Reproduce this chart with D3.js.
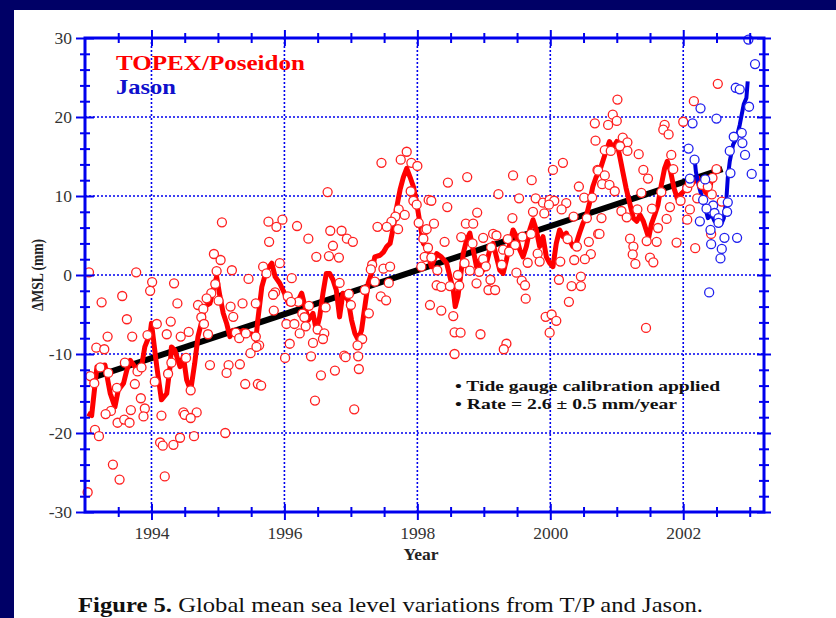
<!DOCTYPE html>
<html>
<head>
<meta charset="utf-8">
<script src="https://cdn.jsdelivr.net/npm/d3@7"></script>
<style>
  html, body { margin: 0; padding: 0; overflow: hidden; background: #ffffff; }
  svg { display: block; }
</style>
</head>
<body>
<script>
// ---- data (year, mm) ----
const tpYears = [1993.06,1993.25,1993.56,1993.77,1994.01,1993.98,1994.34,1994.39,1994.94,1995.04,1995.06,1995.21,1995.46,
  1994.98,1994.96,1994.90,1994.70,1994.83,1994.78,1995.01,1995.19,1995.37,1995.57,1995.23,1994.75,1994.79,1993.63,1994.29,
  1994.08,1994.23,1993.94,1993.71,1993.34,1994.44,1994.56,1994.85,1995.27,1995.32,1995.42,1995.57,1993.17,1993.29,1995.49,
  1995.62,1993.60,1993.23,1994.88,1995.16,1995.33,1995.13,1994.52,1994.30,1993.08,1993.35,1993.79,1993.85,1993.14,1993.75,
  1994.05,1994.25,1995.41,1995.60,1993.48,1994.59,1993.84,1993.90,1993.69,1993.39,1993.31,1993.88,1994.15,1994.48,1994.50,
  1994.68,1994.59,1993.49,1993.59,1993.67,1993.15,1993.21,1995.11,1994.64,1994.43,1994.33,1994.13,1994.17,1993.42,1993.52,
  1994.20,1993.04,
  1997.84,1997.75,1997.91,1998.00,1997.46,1996.65,1997.90,1997.94,1997.99,1998.17,1997.72,1997.81,1997.67,1997.61,1997.54,
  1997.71,1997.40,1998.02,1998.12,1998.09,1998.11,1995.76,1995.88,1995.97,1996.19,1995.77,1996.36,1996.69,1996.86,1996.94,
  1997.03,1996.73,1996.48,1996.67,1996.82,1995.68,1995.73,1995.93,1996.11,1997.32,1997.30,1997.49,1997.59,1998.06,1996.83,
  1997.36,1997.57,1997.21,1995.86,1995.83,1996.05,1996.21,1996.10,1996.97,1997.45,1997.53,1996.37,1996.62,1997.00,1995.84,
  1996.27,1997.27,1996.30,1996.03,1996.15,1996.32,1996.23,1996.50,1996.60,1996.58,1996.43,1996.08,1997.17,1997.10,1995.58,
  1996.01,1996.40,1996.90,1996.92,1997.11,1997.12,1996.76,1996.55,1996.46,1997.05,1995.65,
  2000.67,2000.68,2000.19,2000.04,1999.44,1999.72,1998.75,1998.46,2000.43,2000.71,1999.22,1998.21,1999.53,1999.78,1999.89,
  1999.99,2000.06,1999.98,2000.24,2000.17,2000.51,2000.63,1998.45,1998.90,1999.74,1999.91,1999.43,2000.35,2000.55,1998.25,
  1998.73,1998.84,1998.14,2000.72,1998.66,1998.99,1999.14,1999.19,1999.36,1999.58,1999.71,1998.41,1998.83,1999.47,2000.26,
  2000.40,2000.58,1998.16,1999.11,1999.29,1999.38,1999.81,2000.61,1998.99,1998.21,1998.71,1999.03,1999.27,1999.66,1999.84,
  2000.15,2000.36,2000.52,1998.30,1998.79,1998.93,1998.61,1999.49,1999.10,1998.89,1998.29,1998.36,1998.49,1998.63,1999.57,
  1999.62,2000.13,2000.46,2000.32,2000.46,1999.07,1999.17,1999.63,1998.19,2000.28,1998.36,1998.54,1999.93,2000.02,2000.09,
  1998.56,1998.65,1998.95,1999.99,1999.34,1999.30,1998.56,
  2002.52,2001.01,2002.16,2000.94,2001.00,2000.87,2002.00,2001.72,2001.70,2001.78,2001.09,2001.16,2001.05,2000.82,2000.91,
  2001.16,2001.33,2001.82,2001.40,2001.47,2001.85,2000.72,2000.82,2000.78,2000.89,2000.97,2001.37,2001.67,2002.06,2002.10,
  2002.44,2002.28,2002.21,2002.43,2002.37,2002.58,2001.96,2001.80,2001.31,2001.53,2001.07,2001.15,2000.77,2002.10,2002.06,
  2001.75,2002.42,2000.74,2001.62,2001.20,2001.45,2001.60,2001.90,2002.18,2001.25,2001.24,2001.50,2001.28,2001.55,2001.44,
  2002.50];
const tpValues = [0.34,-3.46,-2.66,0.34,-0.9,-2.0,-1.05,-3.6,2.66,1.9,6.67,0.6,-0.5,
  0.5,-1.14,-2.3,-3.8,-2.95,-4.3,-3.25,-4.0,-3.6,-3.6,-5.3,-5.35,-6.2,-5.6,-5.9,
  -6.2,-7.5,-7.6,-7.8,-7.8,-7.8,-7.2,-7.5,-7.3,-8.0,-7.4,-7.8,-9.2,-9.4,-9.9,
  -8.9,-11.1,-11.7,-11.4,-11.4,-11.3,-12.4,-10.5,-11.1,-12.8,-12.4,-12.2,-11.7,-13.7,-13.8,
  -13.5,-12.5,-13.8,-13.8,-14.3,-14.6,-15.6,-16.9,-17.1,-17.2,-17.6,-17.9,-17.8,-17.4,-17.7,
  -17.4,-18.1,-18.7,-18.3,-18.7,-19.6,-20.4,-20.0,-20.4,-20.6,-21.5,-21.2,-21.6,-24.0,-25.9,
  -25.5,-27.5,
  15.6,14.6,14.2,13.8,14.2,10.5,10.6,9.4,8.9,9.5,8.3,7.6,7.4,6.75,6.1,
  5.8,6.1,6.6,5.7,4.6,2.3,6.75,6.1,7.0,6.2,4.2,4.6,5.6,5.6,4.6,
  4.2,3.7,2.3,2.4,2.2,1.05,0.2,1.5,-0.4,1.3,0.7,0.8,1.05,1.05,-1.0,
  -0.85,-1.0,-1.9,-2.2,-2.5,-2.7,-3.4,-3.4,-2.4,-2.7,-3.2,-3.9,-4.1,-3.8,-4.5,
  -4.9,-4.85,-5.35,-6.2,-6.2,-6.5,-7.4,-6.9,-7.4,-8.1,-8.6,-8.7,-8.1,-8.9,-9.1,
  -10.5,-10.3,-10.2,-10.4,-10.3,-11.9,-12.1,-12.7,-15.9,-17.0,-14.0,
  19.2,17.0,14.2,13.3,12.6,12.0,12.4,11.7,11.2,13.3,10.25,9.4,9.7,9.7,9.15,
  9.5,9.4,8.9,9.1,8.3,9.8,9.8,8.6,7.9,8.0,7.8,7.2,7.4,7.2,6.5,
  6.5,6.5,5.8,5.2,4.8,4.7,5.2,5.0,4.55,4.85,5.2,4.2,4.0,3.8,4.55,
  3.6,4.2,3.45,3.5,3.2,2.95,2.7,2.65,2.0,2.2,1.5,1.1,1.3,1.55,1.7,
  1.7,1.9,2.0,0.6,0.55,0.4,0.0,0.3,-0.6,-1.05,-1.3,-1.5,-1.4,-1.35,-0.7,
  -1.3,-0.6,-0.2,-1.4,-1.4,-1.9,-1.9,-3.0,-3.8,-3.4,-4.5,-5.2,-5.3,-5.0,-5.8,
  -7.25,-7.3,-7.5,-7.3,-8.7,-9.4,-10.0,
  24.2,22.2,22.0,20.3,19.5,19.0,19.4,19.0,18.4,17.8,17.4,16.8,16.3,15.8,15.7,
  15.7,15.3,15.2,13.3,12.2,13.4,13.2,12.6,11.5,11.4,10.6,10.4,10.5,11.0,11.65,
  12.3,11.4,9.7,10.2,11.2,9.3,9.4,8.6,8.3,8.4,8.1,7.3,7.2,8.3,7.0,
  7.1,5.2,5.2,5.95,4.6,4.3,4.2,4.1,3.4,3.6,2.6,2.2,1.4,1.6,-6.7,
  13.4];

const tpSmoothYears = [1993.04,1993.10,1993.18,1993.30,1993.38,1993.45,1993.50,1993.58,1993.63,1993.68,1993.75,1993.80,
  1993.85,1993.90,1993.98,1994.00,1994.08,1994.15,1994.23,1994.28,1994.30,1994.35,1994.43,1994.48,1994.53,1994.59,1994.65,
  1994.70,1994.75,1994.80,1994.88,1994.93,1994.98,1995.03,1995.08,1995.13,1995.18,1995.23,1995.30,1995.38,1995.46,1995.53,
  1995.57,1995.60,1995.66,1995.73,1995.81,1995.86,1995.93,1996.00,1996.06,1996.13,1996.21,1996.26,1996.31,1996.36,1996.43,
  1996.48,1996.53,1996.58,1996.63,1996.68,1996.73,1996.78,1996.83,1996.88,1996.96,1997.01,1997.06,1997.11,1997.16,1997.21,
  1997.26,1997.31,1997.36,1997.44,1997.49,1997.54,1997.59,1997.64,1997.69,1997.74,1997.79,1997.84,1997.89,1997.94,1997.99,
  1998.04,1998.09,1998.13,1998.16,1998.21,1998.29,1998.36,1998.44,1998.49,1998.54,1998.57,1998.61,1998.65,1998.69,1998.74,
  1998.79,1998.84,1998.89,1998.94,1998.99,1999.04,1999.09,1999.14,1999.19,1999.24,1999.29,1999.34,1999.39,1999.44,1999.49,
  1999.54,1999.59,1999.64,1999.69,1999.74,1999.79,1999.84,1999.89,1999.94,1999.99,2000.04,2000.09,2000.14,2000.19,2000.24,
  2000.29,2000.34,2000.39,2000.44,2000.49,2000.54,2000.59,2000.64,2000.69,2000.74,2000.82,2000.89,2000.94,2001.00,2001.05,
  2001.09,2001.14,2001.20,2001.25,2001.30,2001.35,2001.40,2001.45,2001.48,2001.52,2001.57,2001.62,2001.67,2001.72,2001.76,
  2001.81,2001.86,2001.91,2001.96,2002.01,2002.06,2002.12,2002.17,2002.22,2002.27,2002.32,2002.37,2002.41,2002.43];
const tpSmoothValues = [-17.5,-17.8,-11.6,-11.4,-15.0,-16.7,-14.6,-13.7,-12.0,-10.8,-11.6,-12.4,
  -11.6,-9.1,-7.4,-6.1,-11.6,-15.8,-15.0,-11.6,-9.1,-9.5,-11.6,-10.3,-13.3,-14.6,-11.2,
  -7.8,-6.1,-4.0,-3.6,-1.9,-0.2,-2.7,-4.85,-6.1,-7.8,-7.0,-7.4,-7.0,-7.4,-7.5,
  -8.2,-5.7,-1.5,0.6,1.5,-0.2,-1.05,-2.3,-3.6,-3.4,-3.2,-2.3,-4.0,-5.7,-4.85,
  -7.0,-5.3,-2.3,0.2,0.2,-0.6,-1.9,-5.3,-2.3,-3.2,-5.7,-7.4,-8.2,-7.0,-4.0,
  -1.05,0.2,2.3,2.5,2.9,3.6,4.0,6.1,8.6,10.8,12.4,13.5,12.4,11.2,9.1,
  6.5,4.0,3.6,2.7,1.05,2.7,2.3,1.5,-0.2,-1.9,-4.0,-2.7,-0.2,2.7,4.4,
  5.3,3.2,1.05,1.9,0.6,1.5,3.2,4.0,2.3,0.6,0.2,1.9,4.0,5.7,4.85,
  3.2,2.3,3.6,5.7,7.0,5.7,3.6,4.85,2.3,1.5,1.05,4.0,5.7,4.85,5.3,
  4.4,3.6,4.0,5.3,6.5,7.4,9.1,11.2,12.4,13.1,15.2,16.9,16.1,16.9,14.8,
  13.1,11.0,8.9,7.2,6.8,7.6,6.8,5.5,4.7,6.4,7.6,8.9,11.4,13.5,14.4,
  13.1,11.0,9.7,10.2,10.6,11.4,11.4,11.9,12.3,11.4,10.6,10.2,11.4,12.7];

const jasonYears = [2002.98,2003.08,2002.79,2002.85,2002.99,2002.26,2002.50,2002.14,2002.88,2002.76,2002.89,2002.08,
  2002.93,2002.70,2003.03,2002.71,2002.17,2002.10,2002.33,2002.30,2002.45,2002.67,2002.35,2002.47,2002.66,2002.53,
  2002.25,2002.53,2002.41,2002.62,2002.81,2002.42,2002.58,2002.56,2002.39];
const jasonValues = [29.8,26.7,23.7,23.5,21.3,21.1,19.8,19.2,18.0,17.5,16.7,16.0,
  15.2,15.7,12.8,12.9,14.6,12.2,12.1,9.5,8.8,9.2,8.4,7.85,8.0,7.2,
  6.8,6.6,5.7,4.7,4.7,3.9,3.3,2.1,-2.2];

const jasonSmoothYears = [2002.17,2002.19,2002.23,2002.27,2002.32,2002.37,2002.43,2002.47,2002.52,2002.57,2002.61,
  2002.65,2002.67,2002.70,2002.75,2002.80,2002.85,2002.87,2002.91,2002.95,2002.97];
const jasonSmoothValues = [14.8,13.1,11.4,10.2,8.9,7.2,7.6,6.8,7.2,6.4,7.2,
  9.7,12.3,14.4,16.5,17.3,19.0,19.9,21.6,22.4,24.5];

const trendYears = [1993.15, 2002.59];
const trendValues = [-12.9, 13.4];

const xTickYears = [1994, 1996, 1998, 2000, 2002];
const yTickValues = [-30, -20, -10, 0, 10, 20, 30];

// ---- layout ----
const width = 836, height = 618;
const axisBlue = "#0000ee";
const serif = "'Liberation Serif', 'DejaVu Serif', serif";

const svg = d3.select("body").append("svg")
  .attr("width", width)
  .attr("height", height)
  .style("background", "#ffffff");

// navy strips along the top and left edge
svg.append("rect").attr("x", 0).attr("y", 0).attr("width", width).attr("height", 10).attr("fill", "#000066");
svg.append("rect").attr("x", 0).attr("y", 0).attr("width", 14).attr("height", height).attr("fill", "#000066");

const x = d3.scaleLinear().domain([1993, 2003.215]).range([85, 764]);
const y = d3.scaleLinear().domain([-30, 30]).range([512, 38]);

const xMinor = d3.range(1993.5, 2003.2, 0.5);
const yMinor = d3.range(-28, 30, 2);

// dotted grid
const grid = svg.append("g").attr("stroke", axisBlue).attr("stroke-width", 1.6).attr("stroke-dasharray", "2,2");
grid.selectAll(".gx").data(xTickYears).enter().append("line")
  .attr("x1", d => x(d)).attr("x2", d => x(d))
  .attr("y1", y(30)).attr("y2", y(-30));
grid.selectAll(".gy").data(yTickValues.filter(d => d > -30 && d < 30)).enter().append("line")
  .attr("x1", x.range()[0]).attr("x2", x.range()[1])
  .attr("y1", d => y(d)).attr("y2", d => y(d));

// lines
const line = d3.line().x(d => x(d[0])).y(d => y(d[1]));

svg.append("path")
  .datum(trendYears.map((d, i) => [d, trendValues[i]]))
  .attr("d", line)
  .attr("fill", "none").attr("stroke", "#000").attr("stroke-width", 6);

svg.append("path")
  .datum(tpSmoothYears.map((d, i) => [d, tpSmoothValues[i]]))
  .attr("d", line)
  .attr("fill", "none").attr("stroke", "#ff0000").attr("stroke-width", 5)
  .attr("stroke-linejoin", "round");

svg.append("path")
  .datum(jasonSmoothYears.map((d, i) => [d, jasonSmoothValues[i]]))
  .attr("d", line)
  .attr("fill", "none").attr("stroke", "#0000dd").attr("stroke-width", 4)
  .attr("stroke-linejoin", "round");

// open circles
svg.append("g").selectAll("circle")
  .data(tpYears.map((d, i) => [d, tpValues[i]]))
  .enter().append("circle")
  .attr("cx", d => x(d[0])).attr("cy", d => y(d[1])).attr("r", 4.5)
  .attr("fill", "#fff").attr("stroke", "#ff2020").attr("stroke-width", 1.3);

svg.append("g").selectAll("circle")
  .data(jasonYears.map((d, i) => [d, jasonValues[i]]))
  .enter().append("circle")
  .attr("cx", d => x(d[0])).attr("cy", d => y(d[1])).attr("r", 4.5)
  .attr("fill", "#fff").attr("stroke", "#2020ee").attr("stroke-width", 1.3);

// axes
function styleAxis(g) {
  g.select(".domain").remove();
  g.selectAll(".tick line").attr("stroke", axisBlue).attr("stroke-width", 2);
  g.selectAll(".tick text").attr("fill", "#333").attr("font-family", serif).attr("font-size", 17.5);
}

const xAxisBottom = svg.append("g").attr("transform", `translate(0,${y(-30)})`)
  .call(d3.axisBottom(x).tickValues(xMinor).tickSize(0).tickFormat(d => xTickYears.includes(d) ? d : ""));
const xAxisTop = svg.append("g").attr("transform", `translate(0,${y(30)})`)
  .call(d3.axisTop(x).tickValues(xMinor).tickSize(0).tickFormat(""));
const yAxisLeft = svg.append("g").attr("transform", `translate(${x(1993)},0)`)
  .call(d3.axisLeft(y).tickValues(yMinor.concat([-30, 30])).tickSize(0).tickFormat(d => yTickValues.includes(d) ? d : ""));
const yAxisRight = svg.append("g").attr("transform", `translate(${x.range()[1]},0)`)
  .call(d3.axisRight(y).tickValues(yMinor.concat([-30, 30])).tickSize(0).tickFormat(""));

[xAxisBottom, xAxisTop, yAxisLeft, yAxisRight].forEach(g => styleAxis(g));

// ticks cross the axis line, majors longer
xAxisBottom.selectAll(".tick line").attr("y1", d => xTickYears.includes(d) ? -8 : -5).attr("y2", d => xTickYears.includes(d) ? 8 : 5);
xAxisTop.selectAll(".tick line").attr("y1", d => xTickYears.includes(d) ? -8 : -5).attr("y2", d => xTickYears.includes(d) ? 8 : 5);
yAxisLeft.selectAll(".tick line").attr("x1", d => yTickValues.includes(d) ? -9 : -5).attr("x2", d => yTickValues.includes(d) ? 9 : 5);
yAxisRight.selectAll(".tick line").attr("x1", d => yTickValues.includes(d) ? -7 : -5).attr("x2", d => yTickValues.includes(d) ? 7 : 5);
xAxisBottom.selectAll(".tick text").attr("y", 15).attr("dy", "0.71em");
yAxisLeft.selectAll(".tick text").attr("x", -13).attr("dy", "0.32em");

// axis frame
svg.append("rect")
  .attr("x", x.range()[0]).attr("y", y(30))
  .attr("width", x.range()[1] - x.range()[0]).attr("height", y(-30) - y(30))
  .attr("fill", "none").attr("stroke", axisBlue).attr("stroke-width", 3);

// axis titles
svg.append("text")
  .attr("x", 421).attr("y", 560)
  .attr("text-anchor", "middle")
  .attr("font-family", serif).attr("font-weight", "bold").attr("font-size", 17.5).attr("fill", "#222")
  .text("Year");

svg.append("text")
  .attr("transform", `translate(43,${y(0)}) rotate(-90)`)
  .attr("text-anchor", "middle")
  .attr("font-family", serif).attr("font-weight", "bold").attr("font-size", 16).attr("fill", "#222")
  .attr("textLength", 72).attr("lengthAdjust", "spacingAndGlyphs")
  .text("ΔMSL (mm)");

// legend
svg.append("text").attr("x", 116).attr("y", 70)
  .attr("font-family", serif).attr("font-weight", "bold").attr("font-size", 21).attr("fill", "#ff0000")
  .attr("textLength", 189).attr("lengthAdjust", "spacingAndGlyphs")
  .text("TOPEX/Poseidon");
svg.append("text").attr("x", 116).attr("y", 94)
  .attr("font-family", serif).attr("font-weight", "bold").attr("font-size", 21).attr("fill", "#1010cc")
  .attr("textLength", 60).attr("lengthAdjust", "spacingAndGlyphs")
  .text("Jason");

// notes
const notes = ["• Tide gauge calibration applied", "• Rate = 2.6 ± 0.5 mm/year"];
const noteWidths = [265, 222];
svg.selectAll(".note").data(notes).enter().append("text")
  .attr("x", 455).attr("y", (d, i) => 391 + i * 18)
  .attr("font-family", serif).attr("font-weight", "bold").attr("font-size", 15.6).attr("fill", "#111")
  .attr("textLength", (d, i) => noteWidths[i]).attr("lengthAdjust", "spacingAndGlyphs")
  .text(d => d);

// caption
const cap = svg.append("text").attr("x", 78).attr("y", 612)
  .attr("font-family", serif).attr("font-size", 22).attr("fill", "#111")
  .attr("textLength", 625).attr("lengthAdjust", "spacingAndGlyphs");
cap.append("tspan").attr("font-weight", "bold").text("Figure 5.");
cap.append("tspan").text(" Global mean sea level variations from T/P and Jason.");
</script>
</body>
</html>
